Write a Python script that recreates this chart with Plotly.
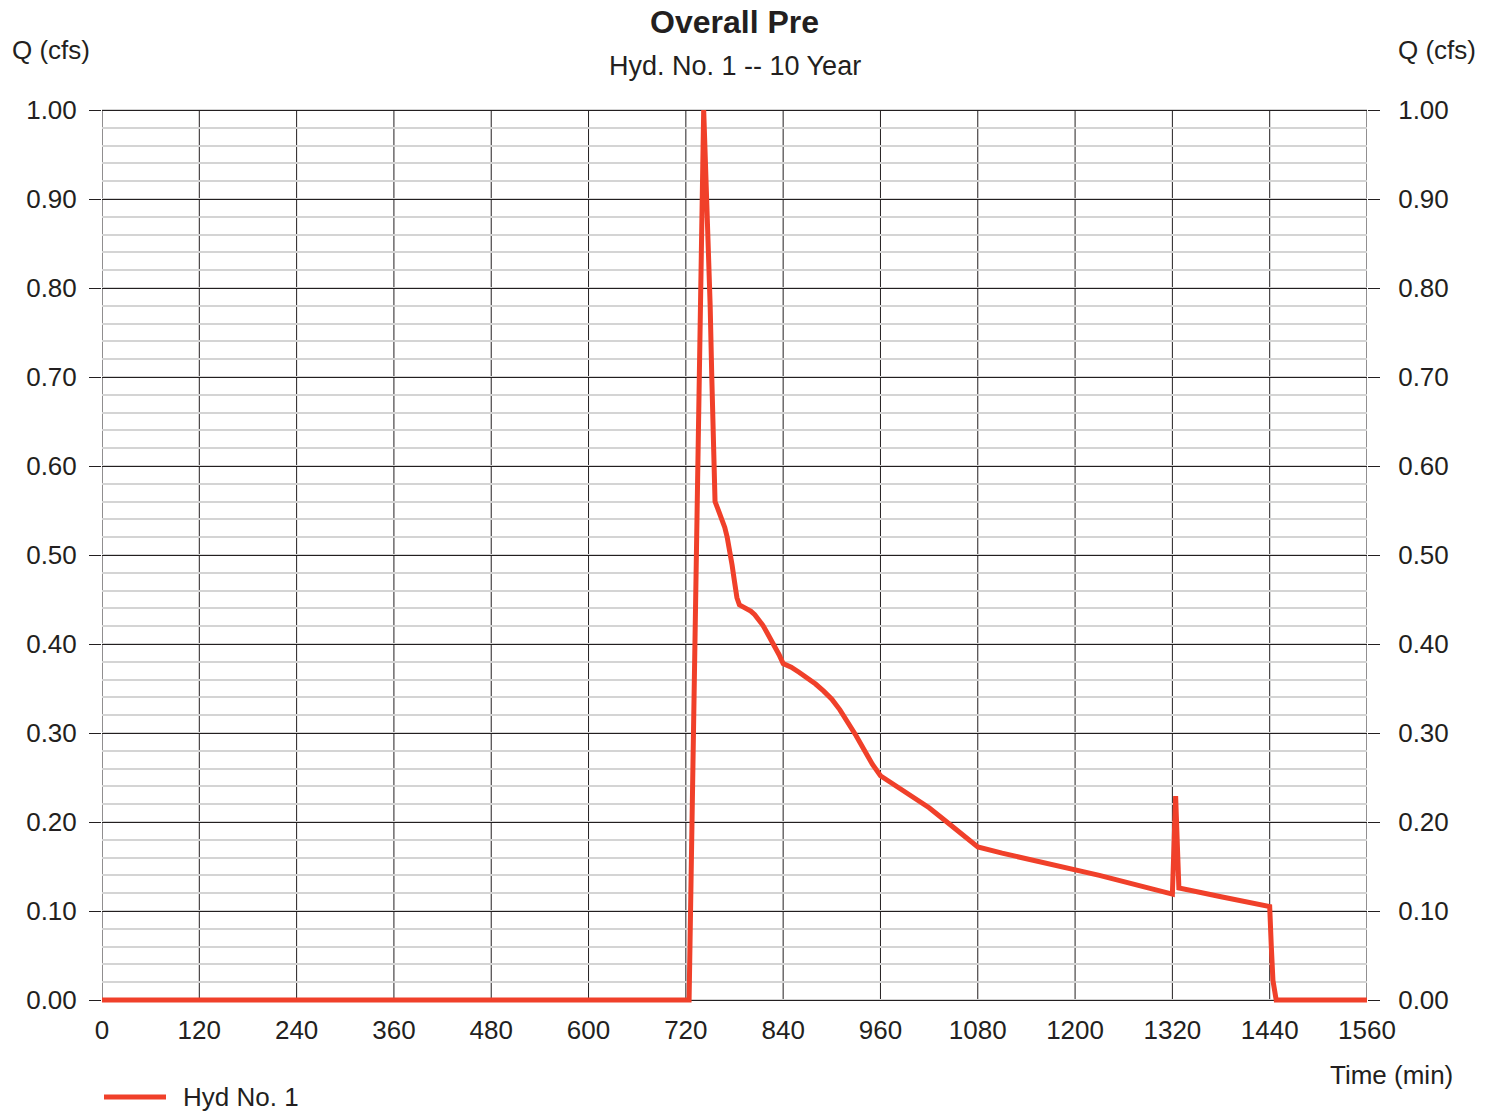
import plotly.graph_objects as go

# Hydrograph: Hyd. No. 1, 10-year storm
time_min = [0, 724, 742, 744, 746, 748, 750, 752, 754, 756, 759, 762, 765, 768, 771, 774, 777, 780, 783, 786,
            790, 795, 800, 805, 810, 815, 820, 825, 830, 835, 840,
            850, 860, 870, 880, 890, 900, 910, 920, 930, 940, 950, 960,
            975, 990, 1005, 1020, 1035, 1050, 1065, 1080,
            1110, 1140, 1170, 1200, 1230, 1260, 1290, 1320, 1324, 1328,
            1380, 1440, 1442, 1444, 1448, 1560]
flow_cfs = [0.0, 0.0, 1.00, 0.95, 0.90, 0.85, 0.78, 0.70, 0.62, 0.56, 0.553, 0.546, 0.540, 0.531, 0.520, 0.506, 0.489, 0.470, 0.452, 0.444,
            0.442, 0.440, 0.437, 0.433, 0.428, 0.421, 0.413, 0.405, 0.397, 0.388, 0.378,
            0.374, 0.368, 0.362, 0.355, 0.347, 0.338, 0.326, 0.312, 0.297, 0.281, 0.265, 0.252,
            0.243, 0.235, 0.226, 0.216, 0.205, 0.194, 0.183, 0.172,
            0.165, 0.159, 0.153, 0.147, 0.140, 0.133, 0.126, 0.119, 0.229, 0.126,
            0.116, 0.105, 0.060, 0.022, 0.0, 0.0]

x_ticks = list(range(0, 1561, 120))
y_ticks = [i / 10 for i in range(11)]

title_text = "Overall Pre"
subtitle_text = "Hyd. No. 1 -- 10 Year"
y_label = "Q (cfs)"
x_label = "Time (min)"
series_name = "Hyd No. 1"

FONT = "Liberation Sans, Arial, sans-serif"
TEXT = "#231f20"
RED = "#f0402a"

# plot area in pixels
L, R, T, B = 102, 129, 106, 108
W, H = 1496, 1112
pad = 4 / 890  # small y padding so the line isn't clipped at 0 and 1
yr = [-pad, 1 + pad]


def py(pix):
    """paper y for a pixel row"""
    return (H - B - pix) / (H - T - B)


def px(pix):
    return (pix - L) / (W - L - R)


fig = go.Figure()
fig.add_trace(go.Scatter(x=time_min, y=flow_cfs, mode="lines", name=series_name,
                         line=dict(color=RED, width=5), showlegend=False,
                         hoverinfo="x+y"))
# invisible trace to carry the right-hand axis
fig.add_trace(go.Scatter(x=time_min, y=flow_cfs, mode="lines", yaxis="y2",
                         line=dict(color="rgba(0,0,0,0)", width=0),
                         showlegend=False, hoverinfo="skip"))

# vertical grid lines every 120 min
for t in x_ticks:
    fig.add_shape(type="line", xref="x", yref="y", x0=t, x1=t, y0=0, y1=1,
                  line=dict(color="#231f20", width=1), layer="below")

yaxis_common = dict(range=yr, tickvals=y_ticks, tickformat=".2f",
                    ticks="outside", ticklen=12, tickcolor="#231f20", tickwidth=1,
                    tickfont=dict(family=FONT, size=26, color=TEXT),
                    zeroline=False, showline=False, fixedrange=True)

fig.update_layout(
    width=W, height=H,
    margin=dict(l=L, r=R, t=T, b=B, pad=0),
    paper_bgcolor="white", plot_bgcolor="white",
    font=dict(family=FONT, size=26, color=TEXT),
    xaxis=dict(range=[0, 1560], tickvals=x_ticks, showgrid=False, zeroline=False,
               showline=False, ticks="", ticklabelstandoff=8,
               tickfont=dict(family=FONT, size=26, color=TEXT)),
    yaxis=dict(**yaxis_common, showgrid=True, gridcolor="#231f20", gridwidth=1,
               ticklabelstandoff=7,
               minor=dict(dtick=0.02, tick0=0, showgrid=True, gridcolor="#d4d4d4",
                          gridwidth=2, ticks="")),
    yaxis2=dict(**yaxis_common, overlaying="y", side="right", showgrid=False,
                ticklabelstandoff=13),
    showlegend=False,
)

annotations = [
    dict(text=f"<b>{title_text}</b>", x=0.5, y=py(22), font=dict(size=32),
         xanchor="center", yanchor="middle"),
    dict(text=subtitle_text, x=0.5, y=py(66), font=dict(size=27),
         xanchor="center", yanchor="middle"),
    dict(text=y_label, x=px(10), y=py(50), xanchor="left", yanchor="middle"),
    dict(text=y_label, x=px(1478), y=py(50), xanchor="right", yanchor="middle"),
    dict(text=x_label, x=px(1455), y=py(1075), xanchor="right", yanchor="middle"),
    dict(text=series_name, x=px(181), y=py(1097), xanchor="left", yanchor="middle"),
]
for a in annotations:
    fig.add_annotation(xref="paper", yref="paper", showarrow=False, **a)

# legend swatch
fig.add_shape(type="line", xref="paper", yref="paper", x0=px(104), x1=px(166),
              y0=py(1097), y1=py(1097), line=dict(color=RED, width=5))

fig.write_html("out.html", config={"displayModeBar": False})
